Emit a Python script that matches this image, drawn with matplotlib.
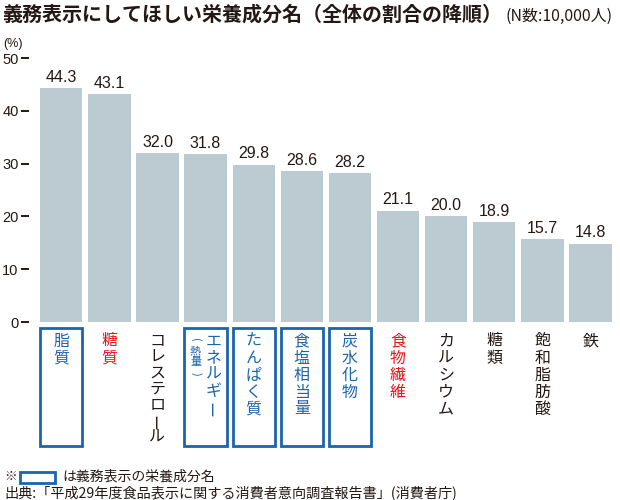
import matplotlib
matplotlib.use("Agg")
import matplotlib.pyplot as plt
from matplotlib.patches import Rectangle
from matplotlib.transforms import offset_copy

plt.rcParams['font.family'] = ['Noto Sans CJK JP', 'DejaVu Sans']

categories = ["脂質", "糖質", "コレステロール", "エネルギー", "たんぱく質", "食塩相当量",
              "炭水化物", "食物繊維", "カルシウム", "糖類", "飽和脂肪酸", "鉄"]
values = [44.3, 43.1, 32.0, 31.8, 29.8, 28.6, 28.2, 21.1, 20.0, 18.9, 15.7, 14.8]
value_labels = ["44.3", "43.1", "32.0", "31.8", "29.8", "28.6", "28.2", "21.1", "20.0", "18.9", "15.7", "14.8"]
mandatory = [True, False, False, True, True, True, True, False, False, False, False, False]
highlight_red = [False, True, False, False, False, False, False, True, False, False, False, False]
yticks = [0, 10, 20, 30, 40, 50]
ytick_labels = ["0", "10", "20", "30", "40", "50"]

W, H = 620, 500
DARK = "#231815"
BLUE = "#1b64ae"
RED = "#e8141c"
BAR = "#bccad1"
NUM_FONT = ['Liberation Sans', 'DejaVu Sans']

fig = plt.figure(figsize=(W / 100, H / 100), dpi=100)
ax_left, ax_right, ax_top, ax_bot = 29, 615, 58, 322
ax = fig.add_axes([ax_left / W, 1 - ax_bot / H, (ax_right - ax_left) / W, (ax_bot - ax_top) / H])

x = list(range(len(categories)))
ax.bar(x, values, width=0.88, color=BAR, edgecolor='none')
ax.set_xlim(-0.67, 11.51)
ax.set_ylim(0, 50)
for s in ax.spines.values():
    s.set_visible(False)
ax.set_xticks([])
ax.set_yticks(yticks)
ax.set_yticklabels(ytick_labels, fontfamily=NUM_FONT, fontsize=10.5, color=DARK)
ax.tick_params(axis='y', length=6, width=1.4, color=DARK, pad=1.5)

for xi, v, lab in zip(x, values, value_labels):
    ax.annotate(lab, (xi, v), xytext=(0, 2.5), textcoords='offset points',
                ha='center', va='bottom', fontsize=11.5, color=DARK, fontfamily=NUM_FONT)

axh = ax_bot - ax_top
tr = ax.get_xaxis_transform()


def ypx(py):
    return (ax_bot - py) / axh


def vtext(xd, dx_px, y0, s, color, size, step):
    # place characters vertically, one per line
    trans = offset_copy(tr, fig=fig, x=dx_px * 72 / 100, y=0, units='points') if dx_px else tr
    for k, ch in enumerate(s):
        rot = 0
        if ch == "ー":
            rot = 90
        elif ch in "()":
            rot = -90
        ax.text(xd, ypx(y0 + k * step), ch, transform=trans, ha='center', va='center',
                fontsize=size, color=color, rotation=rot, rotation_mode='anchor', clip_on=False)


box_top, box_bot = 328, 446
for i, cat in enumerate(categories):
    if mandatory[i]:
        ax.add_patch(Rectangle((i - 0.44, ypx(box_bot)), 0.88, ypx(box_top) - ypx(box_bot),
                               transform=tr, fill=False, edgecolor=BLUE, linewidth=2.0, clip_on=False))
    color = BLUE if mandatory[i] else (RED if highlight_red[i] else DARK)
    step = 16.0 if cat == "コレステロール" else 17.0
    if cat == "エネルギー":
        vtext(i, 8, 341, cat, color, 11.5, 16.7)
        vtext(i, -10, 340, "(熱量)", color, 8, 11.2)
    else:
        vtext(i, 0, 341, cat, color, 11.5, step)

# Title
fig.text(2 / W, 1 - 14 / H, "義務表示にしてほしい栄養成分名（全体の割合の降順）", ha='left', va='center',
         fontsize=14.4, fontweight='bold', color=DARK)
fig.text(505 / W, 1 - 16 / H, "(N数:10,000人)", ha='left', va='center', fontsize=11.5, color=DARK)
fig.text(3 / W, 1 - 44 / H, "(%)", ha='left', va='center', fontsize=9, color=DARK, fontfamily=NUM_FONT)

# Footer
fig.text(4 / W, 1 - 477 / H, "※", ha='left', va='center', fontsize=9, color=DARK)
fig.add_artist(Rectangle((20 / W, 1 - 483 / H), 35 / W, 11 / H, transform=fig.transFigure,
                         fill=False, edgecolor=BLUE, linewidth=2.0))
fig.text(62 / W, 1 - 477 / H, "は義務表示の栄養成分名", ha='left', va='center', fontsize=10, color=DARK)
fig.text(4 / W, 1 - 493 / H, "出典:「平成29年度食品表示に関する消費者意向調査報告書」(消費者庁)",
         ha='left', va='center', fontsize=10.2, color=DARK)

fig.savefig("out.png", dpi=100)
